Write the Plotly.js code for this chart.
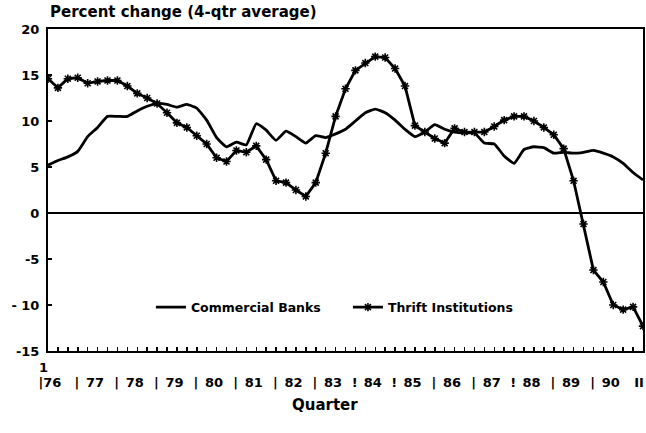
<!DOCTYPE html>
<html>
<head>
<meta charset="utf-8">
<script src="https://cdn.plot.ly/plotly-3.0.1.min.js"></script>
<style>html,body{margin:0;padding:0;background:#fff;}#chart{width:646px;height:433px;}</style>
</head>
<body>
<div id="chart"></div>
<script>
// Quarter index: 0 = 1976 Q1 ... 60 = 1991 Q1
var quarters = [];
for (var i = 0; i <= 60; i++) quarters.push(i);

var commercialBanks = [5.2, 5.7, 6.1, 6.7, 8.3, 9.3, 10.5, 10.5, 10.5, 11.1,
  11.6, 11.9, 11.8, 11.5, 11.8, 11.4, 10.1, 8.2, 7.2, 7.7,
  7.4, 9.7, 9.0, 7.9, 8.9, 8.3, 7.6, 8.4, 8.2, 8.6,
  9.1, 10.0, 10.9, 11.3, 10.9, 10.1, 9.1, 8.3, 8.8, 9.6,
  9.1, 8.8, 8.7, 8.7, 7.6, 7.5, 6.2, 5.4, 6.9, 7.2,
  7.1, 6.5, 6.6, 6.5, 6.6, 6.8, 6.5, 6.1, 5.4, 4.4, 3.6];

var thriftInstitutions = [14.6, 13.6, 14.6, 14.7, 14.1, 14.3, 14.4, 14.4, 13.8, 13.0,
  12.5, 11.9, 10.9, 9.8, 9.3, 8.4, 7.5, 6.0, 5.6, 6.8,
  6.6, 7.3, 5.8, 3.5, 3.3, 2.5, 1.8, 3.3, 6.5, 10.5,
  13.5, 15.5, 16.3, 17.0, 16.9, 15.7, 13.8, 9.5, 8.8, 8.1,
  7.6, 9.2, 8.8, 8.8, 8.8, 9.4, 10.1, 10.5, 10.5, 10.0,
  9.3, 8.5, 7.0, 3.5, -1.2, -6.2, -7.5, -10.0, -10.5, -10.2, -12.3];

var yearLabels = ['|76','77','78','79','80','81','82','83','84','85','86','87','88','89','90'];
var separatorLabels = ['|','|','|','|','|','|','|','!','!','|','|','!','|','|'];
var endLabel = 'II';
var yTickValues = [-15, -10, -5, 0, 5, 10, 15, 20];
var yTickLabels = ['-15', '- 10', '-5', '0', '5', '10', '15', '20'];

var labelVals = [], labelText = [];
for (var k = 0; k < yearLabels.length; k++) {
  labelVals.push(k === 0 ? 0.2 : 4 * k + 0.75); labelText.push(yearLabels[k]);
  if (k < separatorLabels.length) { labelVals.push(4 * k + 2.92); labelText.push(separatorLabels[k]); }
}
labelVals.push(59.6); labelText.push(endLabel);

var boldFont = {family: 'DejaVu Sans', size: 13, color: '#000', weight: 'bold'};

var traces = [
  {x: quarters, y: commercialBanks, type: 'scatter', mode: 'lines', name: 'Commercial Banks',
   xaxis: 'x', yaxis: 'y',
   line: {color: '#000', width: 2.8, shape: 'spline', smoothing: 0.4}},
  {x: quarters, y: thriftInstitutions, type: 'scatter', mode: 'lines+markers', name: 'Thrift Institutions',
   xaxis: 'x2', yaxis: 'y',
   line: {color: '#000', width: 2.8},
   marker: {symbol: 'asterisk-open', size: 7, color: '#000', line: {color: '#000', width: 1.6}}}
];

var layout = {
  width: 646, height: 433,
  margin: {l: 48, r: 3, t: 29, b: 82},
  paper_bgcolor: '#fff', plot_bgcolor: '#fff',
  showlegend: true,
  legend: {orientation: 'h', x: 0.173, y: 0.135, xanchor: 'left', yanchor: 'middle',
           bgcolor: 'rgba(0,0,0,0)', font: {family: 'DejaVu Sans', size: 12.5, color: '#000', weight: 'bold'},
           itemwidth: 30, entrywidth: 152, entrywidthmode: 'pixels', tracegroupgap: 0},
  xaxis: {range: [0, 60], tickmode: 'linear', tick0: 0, dtick: 1, ticks: 'inside', ticklen: 4,
          tickwidth: 1.5, tickcolor: '#000', showticklabels: false, showline: true, linecolor: '#000',
          linewidth: 2, mirror: true, showgrid: false, zeroline: false},
  xaxis2: {range: [0, 60], overlaying: 'x', anchor: 'y', side: 'bottom', tickmode: 'array',
           tickvals: labelVals, ticktext: labelText, ticks: '', showline: false, showgrid: false,
           zeroline: false, tickfont: boldFont, tickangle: 0, ticklabelstandoff: 22},
  yaxis: {range: [-15, 20], tickmode: 'array', tickvals: yTickValues, ticktext: yTickLabels,
          ticks: 'inside', ticklen: 4, tickwidth: 1.5, tickcolor: '#000', showline: true,
          linecolor: '#000', linewidth: 2, mirror: true, showgrid: false, zeroline: true,
          zerolinecolor: '#000', zerolinewidth: 2, tickfont: boldFont, ticklabelstandoff: 4},
  annotations: [
    {text: 'Percent change (4-qtr average)', xref: 'paper', yref: 'paper', x: 0, y: 1.053,
     xanchor: 'left', yanchor: 'middle', showarrow: false,
     font: {family: 'DejaVu Sans', size: 15, color: '#000', weight: 'bold'}},
    {text: 'Quarter', xref: 'paper', yref: 'paper', x: 0.4655, y: -0.168, xanchor: 'center',
     yanchor: 'middle', showarrow: false, font: {family: 'DejaVu Sans', size: 15, color: '#000', weight: 'bold'}},
    {text: '1', xref: 'paper', yref: 'paper', x: -0.007, y: -0.05, xanchor: 'center',
     yanchor: 'middle', showarrow: false, font: boldFont}
  ]
};

Plotly.newPlot('chart', traces, layout, {displayModeBar: false, staticPlot: true});
</script>
</body>
</html>
